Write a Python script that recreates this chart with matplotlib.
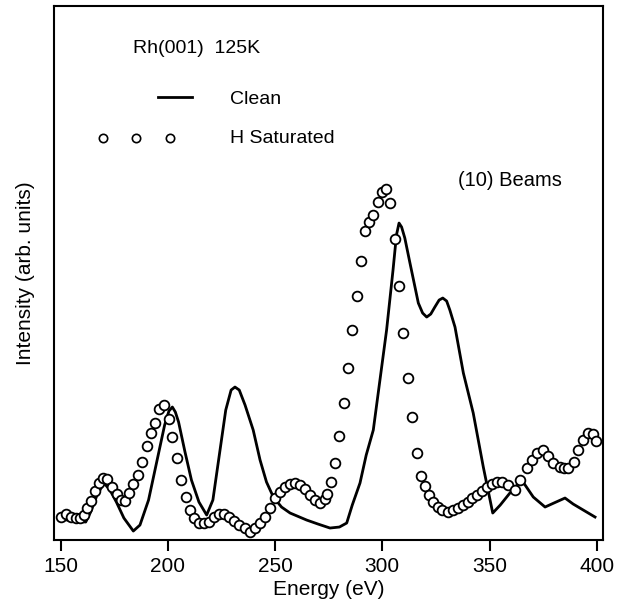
import matplotlib
matplotlib.use("Agg")
import matplotlib.pyplot as plt
import numpy as np

plt.rcParams['font.family'] = ['Liberation Sans', 'DejaVu Sans']

# Clean surface (solid line): energy (eV), intensity (arb.)
clean_e = [150, 156, 161.7, 164, 167, 170.2, 173, 176, 179.5, 183.9, 187, 191, 195,
           198.5, 200.5, 202.1, 203.5, 205, 208, 211, 214.5, 218.1, 221, 224, 227,
           229.5, 231.3, 233.3, 236, 239.8, 243, 246, 249.2, 253, 257, 264.7, 270,
           275.6, 280, 283.4, 286, 289.6, 292.5, 295.8, 298.9, 302, 305, 306.6,
           307.8, 309, 310.5, 312.9, 316.8, 318.8, 320.7, 322.6, 324.5, 326.5,
           328.2, 330, 331.5, 333.9, 337.8, 342.4, 347.1, 351.5, 355, 359.5, 365,
           370.4, 375.9, 380, 385.2, 389, 393.7, 399.2]
clean_i = [21, 19, 18, 28, 45, 57, 50, 38, 22, 9, 15, 40, 80,
           115, 129, 133, 128, 118, 88, 60, 38, 25, 40, 85, 130,
           150, 153, 150, 135, 110, 80, 58, 43, 33, 27, 20, 16,
           12, 13, 17, 35, 57, 85, 110, 160, 210, 270, 305,
           317, 313, 302, 277, 237, 227, 223, 226, 233, 240,
           242, 239, 230, 213, 167, 127, 73, 27, 35, 47, 60,
           43, 33, 37, 42, 36, 30, 23]

# H saturated surface (open circles)
h_e = [150, 152.3, 154.7, 157, 159, 160.9, 162.4, 164, 165.9, 167.9, 169.9, 171.7,
       174.1, 176.1, 178, 179.9, 181.9, 183.9, 186.1, 188.1, 190.1, 192, 193.8,
       195.8, 198.2, 200.5, 202.1, 204.1, 206, 208.3, 210.3, 212.2, 214.5, 216.8,
       219.2, 221.5, 223.8, 226.2, 228.5, 230.8, 233.2, 236, 238.3, 240.6, 243,
       245.3, 247.6, 249.9, 252.3, 254.6, 257, 259.3, 261.6, 264, 266.3, 268.6,
       271, 273.3, 274.4, 275.9, 277.9, 279.9, 282.1, 284.1, 286, 288, 289.9,
       291.8, 293.7, 295.5, 297.9, 299.7, 301.7, 303.6, 305.9, 307.8, 309.8,
       311.8, 313.7, 316, 317.9, 319.9, 321.9, 323.8, 326, 328, 330.8, 333,
       335.5, 337.8, 340, 342, 344, 346.4, 348.7, 351, 353.3, 355.7, 358.8, 362,
       364.4, 367.5, 369.8, 372.1, 374.9, 377.4, 379.8, 382.9, 384.8, 386.8,
       389.4, 391.4, 393.7, 396.1, 398.1, 399.6]
h_i = [23, 26, 23, 22, 22, 25, 32, 39, 49, 57, 62, 61,
       53, 46, 40, 39, 47, 56, 65, 78, 94, 107, 117,
       131, 135, 121, 103, 82, 60, 43, 30, 22, 17, 17,
       18, 23, 26, 26, 23, 19, 15, 12, 8, 12, 17,
       23, 32, 42, 48, 53, 56, 57, 55, 51, 45, 40,
       37, 41, 46, 58, 77, 104, 137, 172, 210, 244, 279,
       309, 318, 325, 338, 348, 351, 337, 301, 254, 207,
       162, 123, 87, 64, 54, 45, 38, 33, 30, 28, 30,
       32, 35, 38, 42, 45, 49, 53, 56, 58, 58, 55, 50,
       60, 72, 80, 87, 90, 84, 77, 73, 72, 72,
       78, 90, 100, 107, 106, 99]

xticks = [150, 200, 250, 300, 350, 400]

fig = plt.figure(figsize=(6.24, 6.12), dpi=100)
ax = fig.add_axes([0.0865, 0.1176, 0.8798, 0.8725])

ax.plot(clean_e, clean_i, color='black', lw=2)
ax.plot(h_e, h_i, 'o', mfc='white', mec='black', ms=7, mew=1.3, ls='none')

ax.set_xlim(146.9, 402.9)
ax.set_ylim(0, 534)
ax.set_xticks(xticks)
ax.set_yticks([])
ax.tick_params(axis='x', direction='out', length=8, width=1.5, labelsize=15, pad=4)
for s in ax.spines.values():
    s.set_linewidth(1.5)

ax.set_xlabel('Energy (eV)', fontsize=15, labelpad=3)
ax.set_ylabel('Intensity (arb. units)', fontsize=15, labelpad=14)

# legend / annotations drawn by hand like the original figure
ax.text(183.7, 492, 'Rh(001)  125K', fontsize=14, va='center', ha='left')
ax.plot([195.4, 211.3], [443, 443], color='black', lw=2)
ax.text(229, 441, 'Clean', fontsize=14, va='center', ha='left')
ax.plot([169.7, 185.1, 201], [402, 402, 402], 'o', mfc='white', mec='black', ms=6, mew=1.2)
ax.text(229, 402, 'H Saturated', fontsize=14, va='center', ha='left')
ax.text(335.3, 360, '(10) Beams', fontsize=14.5, va='center', ha='left')

fig.savefig('out.png', dpi=100)
